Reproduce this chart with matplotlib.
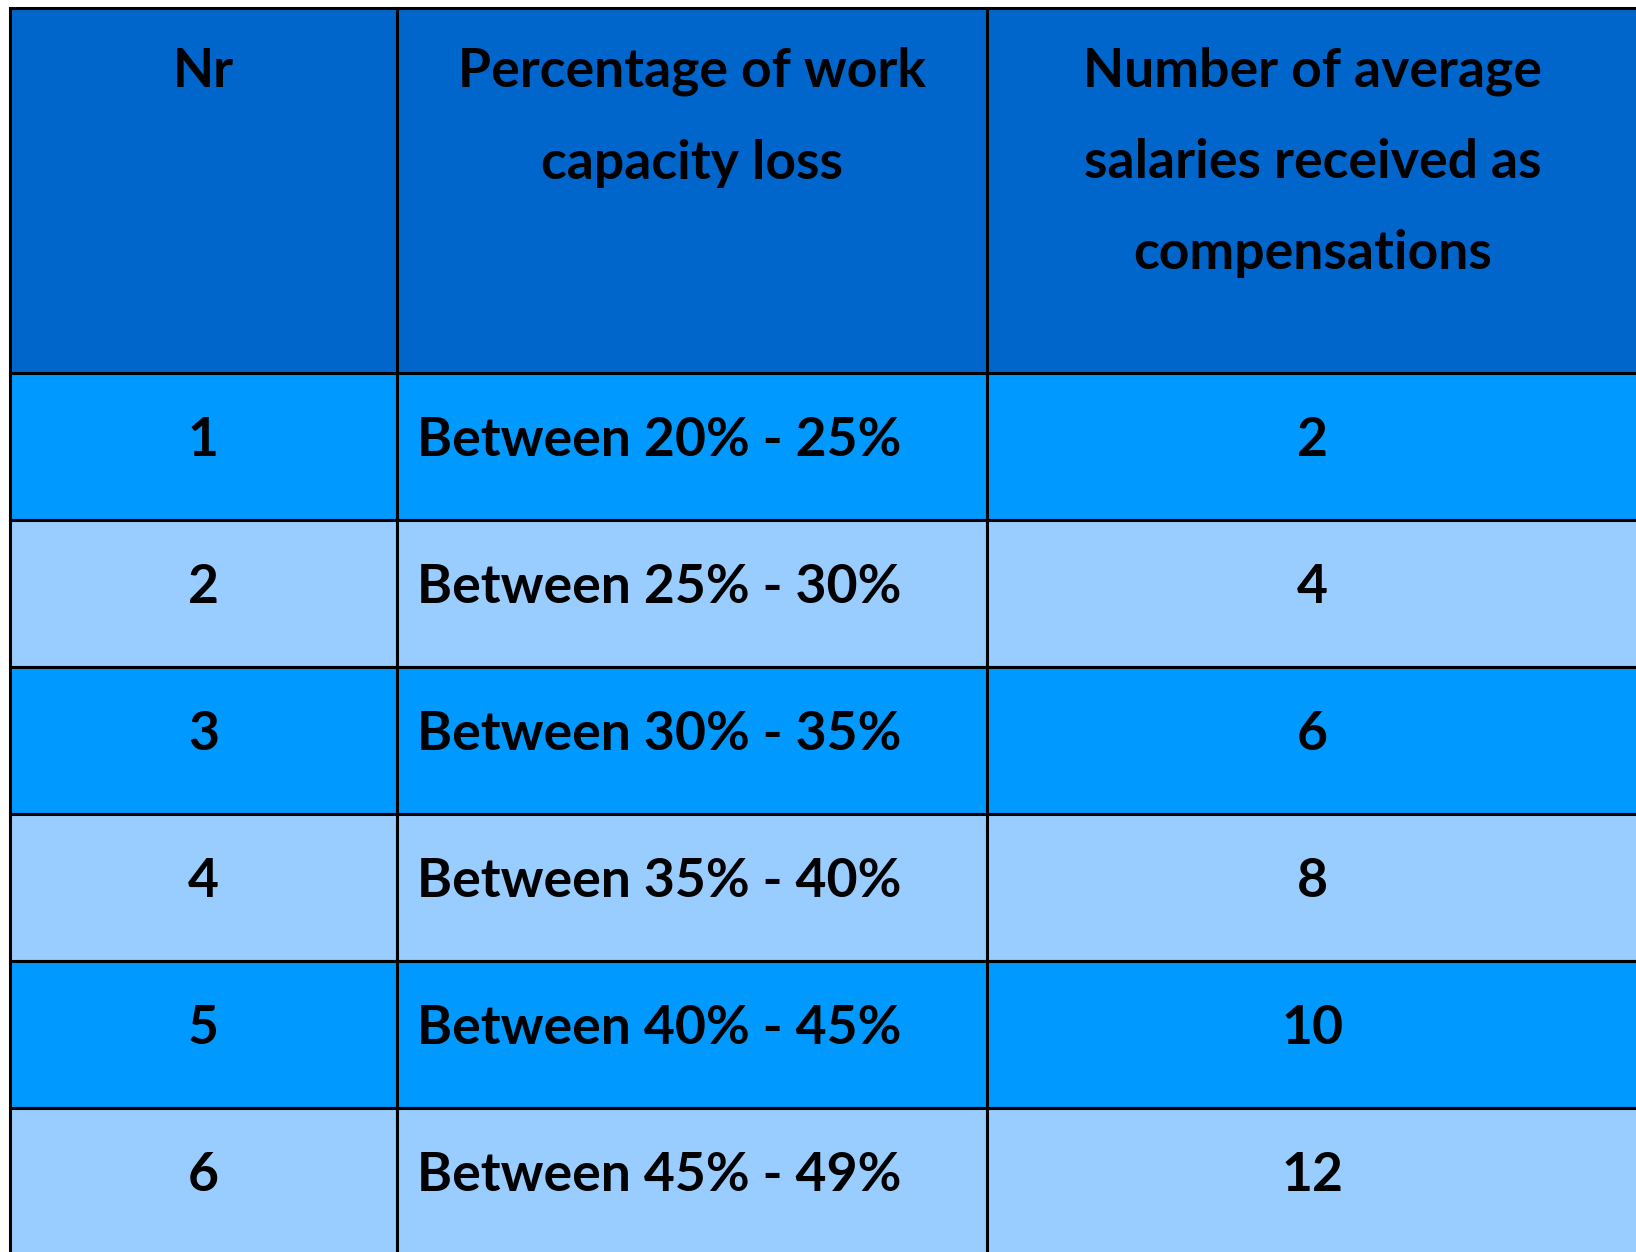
import matplotlib.pyplot as plt
from matplotlib.patches import Rectangle

# table contents
headers = ["Nr", "Percentage of work\ncapacity loss",
           "Number of average\nsalaries received as\ncompensations"]
row_nr = ["1", "2", "3", "4", "5", "6"]
loss_ranges = ["Between 20% - 25%", "Between 25% - 30%", "Between 30% - 35%",
               "Between 35% - 40%", "Between 40% - 45%", "Between 45% - 49%"]
salaries = [2, 4, 6, 8, 10, 12]

W, H = 1636, 1252
col_x = [10, 397, 987, 1638]
top = 8
head_bottom = 373
row_h = 147

header_color = "#0066CC"
row_colors = ["#0099FF", "#99CCFF"]
font = ["Lato", "DejaVu Sans"]
fs = 38.5

fig = plt.figure(figsize=(W / 100, H / 100), dpi=100)
ax = fig.add_axes([0, 0, 1, 1])
ax.set_xlim(0, W)
ax.set_ylim(H, 0)
ax.axis("off")

# header
for i, h in enumerate(headers):
    x0, x1 = col_x[i], col_x[i + 1]
    ax.add_patch(Rectangle((x0, top), x1 - x0, head_bottom - top,
                           facecolor=header_color, edgecolor="black", lw=2.2))
    ax.text((x0 + x1) / 2, 47, h, ha="center", va="top", fontsize=fs,
            fontweight="bold", family=font, linespacing=2.05)

# body rows
for r in range(len(row_nr)):
    y0 = head_bottom + r * row_h
    color = row_colors[r % 2]
    for i in range(3):
        x0, x1 = col_x[i], col_x[i + 1]
        ax.add_patch(Rectangle((x0, y0), x1 - x0, row_h,
                               facecolor=color, edgecolor="black", lw=2.2))
    yc = y0 + row_h / 2 - 6
    ax.text((col_x[0] + col_x[1]) / 2, yc, row_nr[r], ha="center", va="center",
            fontsize=fs, fontweight="bold", family=font)
    ax.text(col_x[1] + 20, yc, loss_ranges[r], ha="left", va="center",
            fontsize=fs, fontweight="bold", family=font)
    ax.text((col_x[2] + col_x[3]) / 2, yc, str(salaries[r]), ha="center",
            va="center", fontsize=fs, fontweight="bold", family=font)

fig.savefig("out.png", dpi=100, facecolor="white")
